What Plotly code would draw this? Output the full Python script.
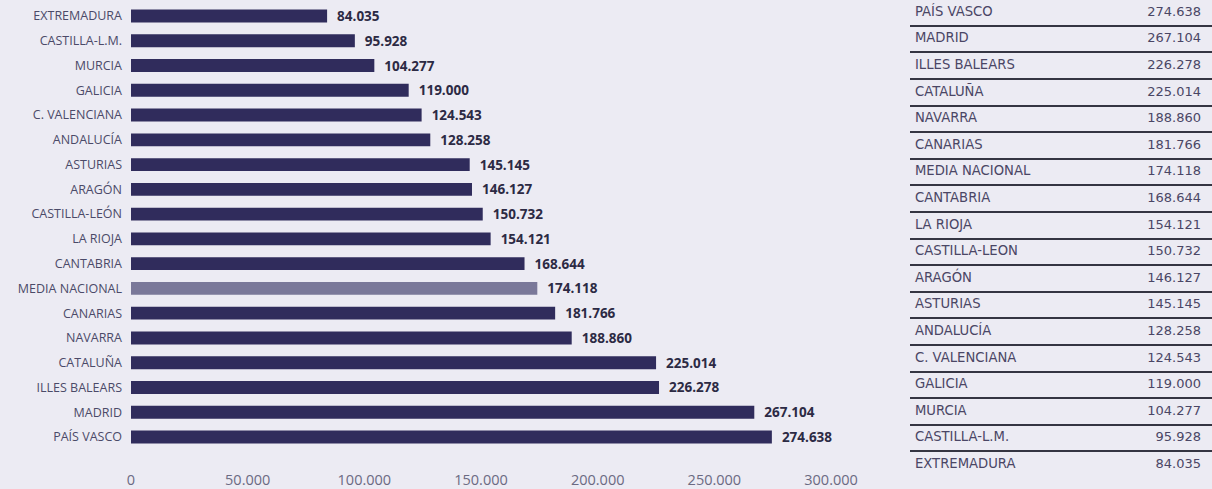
import plotly.graph_objects as go

# ---- data ----
regions = ["EXTREMADURA", "CASTILLA-L.M.", "MURCIA", "GALICIA", "C. VALENCIANA",
           "ANDALUCÍA", "ASTURIAS", "ARAGÓN", "CASTILLA-LEÓN", "LA RIOJA",
           "CANTABRIA", "MEDIA NACIONAL", "CANARIAS", "NAVARRA", "CATALUÑA",
           "ILLES BALEARS", "MADRID", "PAÍS VASCO"]
values = [84035, 95928, 104277, 119000, 124543, 128258, 145145, 146127, 150732,
          154121, 168644, 174118, 181766, 188860, 225014, 226278, 267104, 274638]

table_names = ["PAÍS VASCO", "MADRID", "ILLES BALEARS", "CATALUÑA", "NAVARRA",
               "CANARIAS", "MEDIA NACIONAL", "CANTABRIA", "LA RIOJA", "CASTILLA-LEON",
               "ARAGÓN", "ASTURIAS", "ANDALUCÍA", "C. VALENCIANA", "GALICIA",
               "MURCIA", "CASTILLA-L.M.", "EXTREMADURA"]
table_values = [274638, 267104, 226278, 225014, 188860, 181766, 174118, 168644,
                154121, 150732, 146127, 145145, 128258, 124543, 119000, 104277,
                95928, 84035]

x_ticks = [0, 50000, 100000, 150000, 200000, 250000, 300000]

# ---- styles ----
BAR = "#302c5c"
BAR_AVG = "#7a7899"
colors = [BAR_AVG if r == "MEDIA NACIONAL" else BAR for r in regions]
FONT = "Open Sans"
TFONT = "DejaVu Sans"

fig = go.Figure()

fig.add_trace(go.Bar(
    y=regions, x=values, orientation="h",
    marker=dict(color=colors, line=dict(width=0)),
    texttemplate="\u00a0\u00a0%{x:,}", textposition="outside", constraintext="none",
    textfont=dict(family=FONT, size=13.5, color="#2c2a44", weight="bold"),
    cliponaxis=False, showlegend=False, hoverinfo="skip",
    xaxis="x", yaxis="y",
))

row_idx = list(range(len(table_names)))
fig.add_trace(go.Scatter(
    x=[0.0166] * len(table_names), y=row_idx, mode="text",
    text=table_names, textposition="middle right",
    textfont=dict(family=TFONT, size=13.2, color="#4a4665"),
    showlegend=False, hoverinfo="skip", xaxis="x2", yaxis="y2", cliponaxis=False,
))
fig.add_trace(go.Scatter(
    x=[0.9636] * len(table_values), y=row_idx, mode="text",
    customdata=table_values, texttemplate="%{customdata:,}",
    textposition="middle left",
    textfont=dict(family=TFONT, size=13, color="#4a4665"),
    showlegend=False, hoverinfo="skip", xaxis="x2", yaxis="y2", cliponaxis=False,
))

W, H = 1212, 489
fig.update_layout(
    width=W, height=H,
    margin=dict(l=131, r=0, t=1, b=11, autoexpand=False),
    paper_bgcolor="#ecebf3", plot_bgcolor="rgba(0,0,0,0)",
    separators=",.",
    bargap=0.48,
    font=dict(family=FONT),
    xaxis=dict(domain=[0, 0.6476], range=[0, 300000], tickvals=x_ticks,
               tickformat=",", showgrid=False, zeroline=False, showline=False,
               ticks="", ticklabelstandoff=20, automargin=False,
               tickfont=dict(family=FONT, size=14.5, color="#6b6a82")),
    yaxis=dict(domain=[0.06, 0.9945], categoryorder="array", categoryarray=regions,
               autorange="reversed", showgrid=False, zeroline=False, ticks="",
               ticklabelstandoff=8, automargin=False,
               tickfont=dict(family=FONT, size=12.5, color="#4b4a68")),
    xaxis2=dict(domain=[0.7206, 1.0], range=[0, 1], visible=False, automargin=False),
    yaxis2=dict(domain=[0, 1], range=[17.5, -0.436], anchor="x2", automargin=False,
                tick0=0.5, dtick=1, showgrid=True, gridcolor="#353542", gridwidth=1.6,
                showticklabels=False, zeroline=False, ticks=""),
)

fig.write_html("out.html",
               config={"displayModeBar": False},
               post_script="document.body.style.margin='0';"
                           "document.body.style.background='#ecebf3';")
